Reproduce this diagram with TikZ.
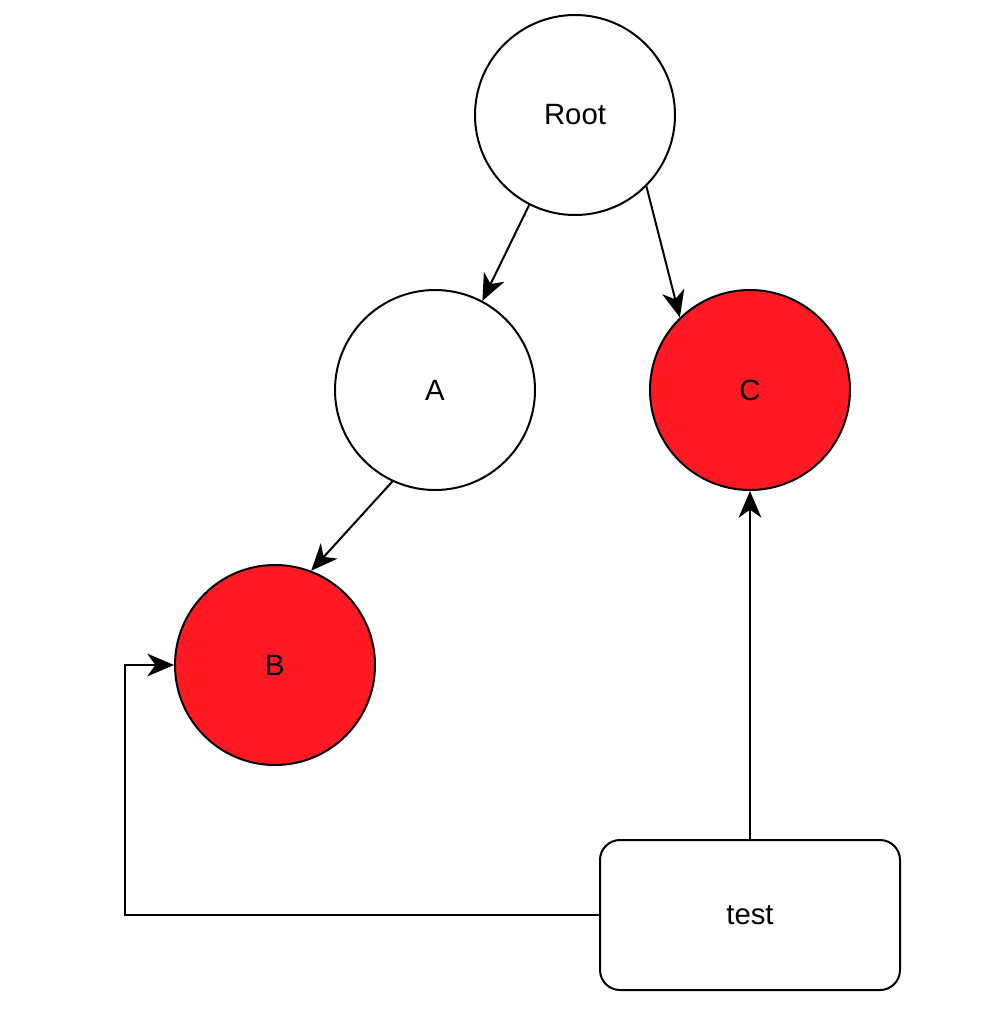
\documentclass[tikz,border=0pt]{standalone}
\usepackage{fontspec}
\setmainfont{Liberation Sans}
\usetikzlibrary{arrows.meta}
\definecolor{nodered}{HTML}{FF1A23}
\begin{document}
\begin{tikzpicture}[x=0.75pt,y=-0.75pt,
  circ/.style={circle,draw=black,line width=1.5pt,minimum size=150pt,inner sep=0pt,font=\fontsize{22}{24}\selectfont},
  redcirc/.style={circ,fill=nodered},
  boxnode/.style={rectangle,rounded corners=15pt,draw=black,line width=1.5pt,minimum width=225pt,minimum height=112.5pt,inner sep=0pt,font=\fontsize{22}{24}\selectfont},
  conn/.style={line width=1.5pt,-{Stealth[length=20pt,width=17pt,inset=6pt]}}]
\useasboundingbox (0,0) rectangle (984,1032);
\fill[white] (0,0) rectangle (984,1032);
\node[circ] (root) at (575,115) {Root};
\node[circ] (a) at (435,390) {A};
\node[redcirc] (c) at (750,390) {C};
\node[redcirc] (b) at (275,665) {B};
\node[boxnode] (t) at (750,915) {test};
\coordinate (corner1) at (125,915);
\coordinate (corner2) at (125,665);
\draw[conn] (root.-117) -- (a.62);
\draw[conn] (root.-45) -- (c.134);
\draw[conn] (a.-115) -- (b.69);
\draw[conn] (t.north) -- (c.south);
\draw[conn] (t.west) -- (corner1) -- (corner2) -- (b.west);
\end{tikzpicture}
\end{document}
